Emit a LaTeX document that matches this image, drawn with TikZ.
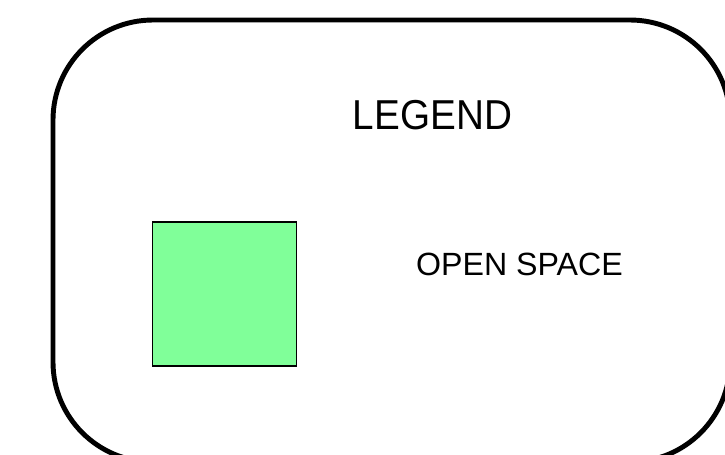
\documentclass[tikz,border=0pt]{standalone}
\usepackage{fontspec}
\setmainfont{Liberation Sans}
\usetikzlibrary{positioning}
\definecolor{OpenGreen}{HTML}{80FF99}
\tikzset{
  legendframe/.style={draw=black,line width=2.8pt,rounded corners=2cm},
  swatchbox/.style={draw=black,line width=1.1pt,fill=OpenGreen,minimum width=2.88cm,minimum height=2.88cm,inner sep=0pt},
  legendtext/.style={inner sep=0pt,anchor=base,text=black}
}

\begin{document}
\begin{tikzpicture}[x=0.02cm,y=-0.02cm]
\useasboundingbox (0,0) rectangle (725,454);
\clip (0,0) rectangle (725,454);
% outer frame, partly cut by the page
\draw[legendframe] (53,20) rectangle (730,462);
\node[swatchbox] (swatch) at (224.5,294) {};
\node[legendtext,font=\fontsize{23.8}{26}\selectfont] (title) at (432.5,129) {\scalebox{0.925}[1]{LEGEND}};
\node[legendtext,font=\fontsize{18.3}{20}\selectfont] (openspace) at (519.5,275) {OPEN SPACE};
\end{tikzpicture}
\end{document}
